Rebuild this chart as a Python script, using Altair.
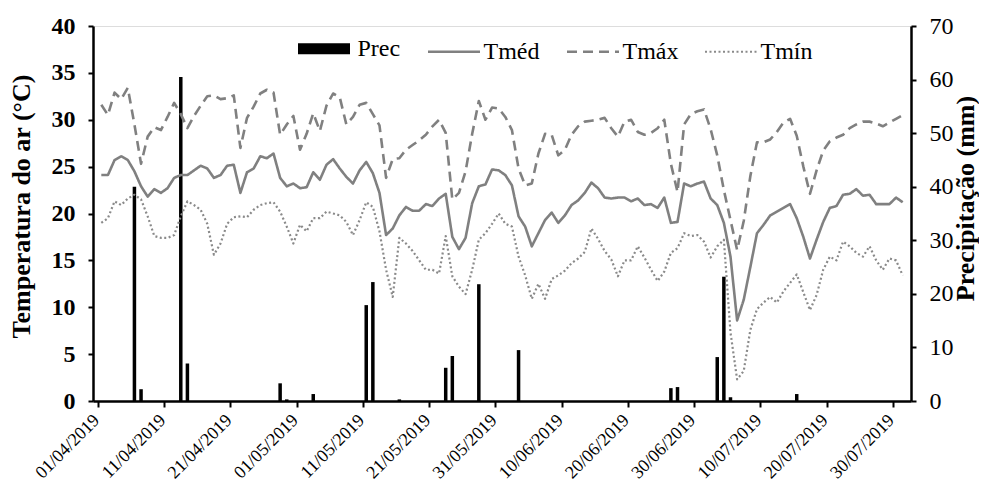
import json
import altair as alt
import pandas as pd

# ---- data (daily, 01/04/2019 .. 31/07/2019) ----
n_days = 122
tick_days = [0, 10, 20, 30, 40, 50, 60, 70, 80, 90, 100, 110, 120]
tick_labels = ["01/04/2019", "11/04/2019", "21/04/2019", "01/05/2019", "11/05/2019",
               "21/05/2019", "31/05/2019", "10/06/2019", "20/06/2019", "30/06/2019",
               "10/07/2019", "20/07/2019", "30/07/2019"]

tmed = [24.1, 24.1, 25.7, 26.1, 25.7, 24.5, 22.9, 21.8, 22.6, 22.2,
        22.7, 23.8, 24.1, 24.1, 24.6, 25.1, 24.8, 23.8, 24.1, 25.1,
        25.2, 22.2, 24.4, 24.8, 26.1, 25.9, 26.4, 23.8, 22.9, 23.2,
        22.7, 22.8, 24.4, 23.6, 25.2, 25.8, 24.8, 23.9, 23.2, 24.6,
        25.5, 24.3, 22.2, 17.7, 18.4, 19.8, 20.7, 20.3, 20.3, 21.0,
        20.8, 21.6, 22.1, 17.5, 16.2, 17.4, 21.1, 22.9, 23.1, 24.7,
        24.6, 24.1, 23.0, 19.7, 18.6, 16.5, 17.9, 19.3, 20.1, 19.0,
        19.8, 20.9, 21.4, 22.2, 23.3, 22.7, 21.7, 21.6, 21.7, 21.7,
        21.3, 21.6, 20.9, 21.0, 20.6, 21.7, 19.0, 19.1, 23.2, 22.9,
        23.2, 23.4, 21.6, 20.9, 19.0, 15.4, 8.6, 10.8, 14.3, 17.9,
        18.8, 19.8, 20.2, 20.6, 21.0, 19.5, 17.5, 15.2, 17.2, 19.1,
        20.6, 20.8, 22.0, 22.1, 22.6, 21.9, 22.0, 21.0, 21.0, 21.0,
        21.7, 21.2]

tmax = [31.6, 30.5, 32.9, 32.2, 33.4, 29.5, 25.3, 28.2, 29.2, 28.9,
        30.3, 31.8, 30.6, 29.1, 30.4, 31.5, 32.5, 32.6, 32.2, 32.3,
        32.6, 27.0, 30.2, 31.4, 32.8, 33.2, 32.9, 28.4, 29.5, 30.4,
        26.8, 28.5, 30.7, 28.8, 31.5, 32.8, 32.4, 29.5, 30.3, 31.6,
        31.8, 30.6, 29.4, 23.8, 25.8, 25.9, 26.8, 27.3, 27.8, 28.4,
        29.3, 30.0, 28.6, 21.5, 22.2, 24.5, 28.5, 32.0, 30.0, 31.3,
        31.2, 30.3, 28.9, 24.8, 23.0, 23.2, 26.4, 28.5, 28.4, 26.2,
        26.8, 28.4, 29.3, 29.8, 29.9, 30.0, 30.2, 29.1, 28.2, 29.8,
        30.0, 28.7, 28.4, 28.6, 29.1, 30.0, 25.3, 22.3, 29.5, 30.6,
        30.9, 31.1, 29.0, 26.2, 22.5, 19.3, 16.1, 19.2, 24.0, 27.6,
        27.6, 27.9, 28.7, 29.7, 30.1, 28.3, 25.0, 22.1, 24.6, 26.7,
        27.7, 28.1, 28.4, 29.1, 29.5, 29.8, 29.8, 29.6, 29.3, 29.7,
        30.1, 30.5]

tmin = [19.0, 19.5, 21.3, 20.9, 21.6, 22.0, 21.5, 19.7, 17.6, 17.4,
        17.4, 17.7, 19.7, 21.3, 20.9, 20.4, 18.9, 15.6, 16.8, 18.9,
        19.6, 19.7, 19.6, 20.4, 20.9, 21.1, 21.2, 20.2, 18.6, 16.8,
        18.8, 18.1, 19.5, 19.5, 20.2, 20.0, 19.8, 19.1, 17.7, 19.3,
        21.2, 20.7, 18.1, 14.0, 11.1, 17.4, 16.8, 16.0, 15.0, 14.0,
        14.0, 13.6, 17.6, 13.3, 12.2, 11.4, 14.0, 17.2, 17.9, 18.9,
        20.0, 18.9, 18.6, 15.4, 13.4, 10.9, 12.5, 10.9, 13.0, 13.4,
        13.9, 14.7, 15.2, 15.9, 18.4, 17.3, 16.0, 15.1, 13.3, 15.0,
        15.0, 16.5, 15.3, 14.0, 12.8, 13.8, 15.8, 16.3, 17.9, 17.6,
        17.7, 17.0, 15.3, 16.5, 17.2, 7.3, 2.3, 3.2, 7.6, 9.8,
        10.5, 11.1, 10.5, 11.7, 12.6, 13.5, 11.6, 9.7, 11.3, 14.0,
        15.4, 15.0, 17.0, 16.5, 15.8, 15.4, 16.5, 15.0, 14.0, 15.2,
        15.0, 13.4]

prec = [0.0] * n_days
prec_events = {5: 40.0, 6: 2.2, 12: 60.5, 13: 7.0, 27: 3.3, 28: 0.3, 32: 1.3,
               40: 17.9, 41: 22.2, 45: 0.3, 52: 6.2, 53: 8.4, 57: 21.8, 63: 9.5,
               86: 2.4, 87: 2.6, 93: 8.2, 94: 23.2, 95: 0.7, 105: 1.3}
for d, v in prec_events.items():
    prec[d] = v

series = ["Prec", "Tméd", "Tmáx", "Tmín"]

# ---- tables ----
days = list(range(n_days))
bars_df = pd.DataFrame({"day": days, "prec": prec})
bars_df["pos"] = bars_df["day"] + 0.5

lines_df = pd.concat([
    pd.DataFrame({"day": days, "series": "Tméd", "value": tmed}),
    pd.DataFrame({"day": days, "series": "Tmáx", "value": tmax}),
    pd.DataFrame({"day": days, "series": "Tmín", "value": tmin}),
], ignore_index=True)
lines_df["pos"] = lines_df["day"] + 0.5

FONT = "Liberation Serif"

x_scale = alt.Scale(domain=[0, n_days], nice=False, zero=False)
x_axis = alt.Axis(
    values=tick_days,
    labelExpr=json.dumps(tick_labels) + "[round(datum.value / 10)]",
    labelAngle=315, labelAlign="right", labelBaseline="top",
    labelPadding=4, labelOffset=-8, labelFontSize=18, labelFont=FONT, labelColor="black",
    labelOverlap=False, labelFlush=False,
    tickSize=6, tickWidth=2, tickColor="black",
    domainColor="black", domainWidth=2.5, grid=False, title=None,
)

bars = alt.Chart(bars_df).mark_bar(color="black", size=3.5).encode(
    x=alt.X("pos:Q", scale=x_scale, axis=x_axis),
    y=alt.Y("prec:Q", scale=alt.Scale(domain=[0, 70], nice=False),
            axis=alt.Axis(orient="right", values=list(range(0, 71, 10)),
                          labelFontSize=24, labelFont=FONT, labelColor="black",
                          labelPadding=13, tickSize=5, tickWidth=2, tickColor="black",
                          domainColor="black", domainWidth=2.5, grid=False,
                          title="Precipitação (mm)", titleFont=FONT, titleFontSize=26,
                          titleFontWeight="bold", titleColor="black",
                          titleAngle=270, titleAlign="center", titleBaseline="middle",
                          titleX=54, titleY=172)),
)

legend = alt.Legend(
    orient="none", legendX=199.5, legendY=-9, direction="horizontal", title=None,
    labelFont=FONT, labelFontSize=24, labelColor="black", labelOffset=2,
    symbolType="stroke", symbolSize=2704, columnPadding=22, padding=0,
)

lines = alt.Chart(lines_df).mark_line(strokeJoin="round").encode(
    x=alt.X("pos:Q", scale=x_scale, axis=x_axis),
    y=alt.Y("value:Q", scale=alt.Scale(domain=[0, 40], nice=False),
            axis=alt.Axis(orient="left", values=list(range(0, 41, 5)),
                          labelFontSize=24, labelFont=FONT, labelFontWeight="bold",
                          labelColor="black", labelPadding=13,
                          tickSize=5, tickWidth=2, tickColor="black",
                          domainColor="black", domainWidth=2.5, grid=False,
                          title="Temperatura do ar (°C)", titleFont=FONT, titleFontSize=26,
                          titleFontWeight="bold", titleColor="black",
                          titleAngle=270, titleAlign="center", titleBaseline="middle",
                          titleX=-72, titleY=180)),
    color=alt.Color("series:N", scale=alt.Scale(domain=series,
                    range=["#000000", "#808080", "#808080", "#8a8a8a"]), legend=legend),
    strokeDash=alt.StrokeDash("series:N", scale=alt.Scale(domain=series,
                    range=[[1, 0], [1, 0], [10, 6], [2, 2.5]]), legend=legend),
    strokeWidth=alt.StrokeWidth("series:N", scale=alt.Scale(type="ordinal", domain=series,
                    range=[11, 2.6, 2.6, 2.2]), legend=legend),
)

chart = alt.layer(bars, lines).resolve_scale(y="independent").properties(
    width=818, height=375,
    autosize=alt.AutoSizeParams(type="none"),
    padding={"left": 85, "top": 18, "right": 68, "bottom": 80},
).configure_view(stroke="black", strokeWidth=2).configure(font=FONT)

chart.save("out.html", embed_options={"renderer": "svg", "actions": False})
